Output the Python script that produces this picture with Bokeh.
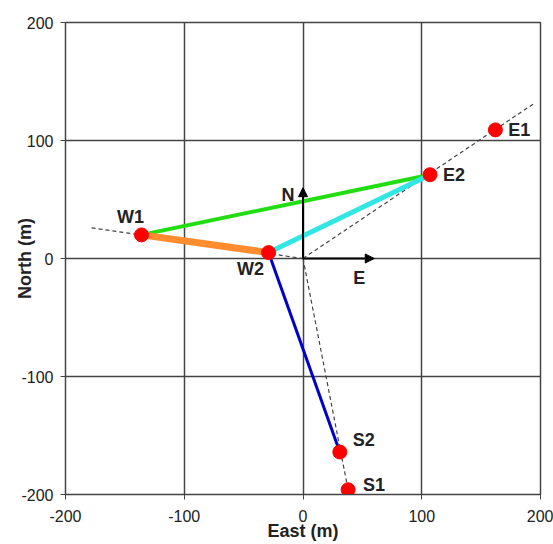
from bokeh.plotting import figure
from bokeh.models import Range1d, Arrow, NormalHead, FixedTicker, ColumnDataSource, CustomJSTickFormatter
from bokeh.core.properties import value
from bokeh.embed import file_html
from bokeh.resources import INLINE

# Station data
stations = ["W1", "W2", "E2", "E1", "S2", "S1"]
east = [-136, -29, 107, 162, 31, 38]
north = [20, 5, 71, 109, -164, -196]

# Label offsets (screen px) for station names
lab_dx = [-11, -18, 24, 24, 24, 26]
lab_dy = [-18, 16, 0, 0, -12, -5]

# Survey line segments (from, to) station names and colors
seg_from = ["W1", "W1", "W2", "W2"]
seg_to = ["E2", "W2", "E2", "S2"]
seg_color = ["#22DD11", "#FF8C2E", "#33E6E6", "#0000CC"]
seg_width = [4, 7, 5, 3]

# Dashed profile lines (through origin)
dash_x0 = [-178, 0, 0]
dash_y0 = [26, 0, 0]
dash_x1 = [0, 194, 38]
dash_y1 = [0, 131, -196]

# Compass arrows
compass = ["N", "E"]
compass_x = [0, 60]
compass_y = [60, 0]
compass_dx = [-15, -15]
compass_dy = [7, 19]

ticks = [-200, -100, 0, 100, 200]

p = figure(width=553, height=544, output_backend="svg", toolbar_location=None,
           x_range=Range1d(-200, 200), y_range=Range1d(-200, 200),
           min_border_left=65, min_border_top=22, min_border_right=13, min_border_bottom=50)
p.background_fill_color = "white"
p.border_fill_color = "white"
p.outline_line_color = "#444444"
p.outline_line_width = 1.5

for ax in (p.xaxis[0], p.yaxis[0]):
    ax.ticker = FixedTicker(ticks=ticks)
    ax.formatter = CustomJSTickFormatter(code="return tick.toString();")
    ax.minor_tick_line_color = None
    ax.major_tick_in = 0
    ax.major_tick_out = 5
    ax.axis_line_color = "#444444"
    ax.major_tick_line_color = "#444444"
    ax.major_label_text_font = "Liberation Sans"
    ax.major_label_text_font_size = "16px"
    ax.major_label_text_color = "#222222"
    ax.axis_label_text_font = "Liberation Sans"
    ax.axis_label_text_font_size = "18px"
    ax.axis_label_text_font_style = "bold"
    ax.axis_label_text_color = "#222222"
p.xaxis.axis_label = "East (m)"
p.yaxis.axis_label = "North (m)"
p.xaxis.major_label_standoff = 10
p.xaxis.axis_label_standoff = -4
p.yaxis.major_label_standoff = 7
p.yaxis.axis_label_standoff = -17

for g in (p.xgrid[0], p.ygrid[0]):
    g.ticker = FixedTicker(ticks=ticks)
    g.grid_line_color = "#444444"
    g.grid_line_width = 1.5

# dashed lines
p.segment(x0=dash_x0, y0=dash_y0, x1=dash_x1, y1=dash_y1,
          line_color="#444444", line_dash="4 3", line_width=1.2)

idx = {s: i for i, s in enumerate(stations)}
sx0 = [east[idx[a]] for a in seg_from]
sy0 = [north[idx[a]] for a in seg_from]
sx1 = [east[idx[b]] for b in seg_to]
sy1 = [north[idx[b]] for b in seg_to]
p.segment(x0=sx0, y0=sy0, x1=sx1, y1=sy1, line_color=seg_color, line_width=seg_width)

# compass arrows
for cx, cy in zip(compass_x, compass_y):
    p.add_layout(Arrow(end=NormalHead(size=9, fill_color="black", line_color="black"),
                       x_start=0, y_start=0, x_end=cx, y_end=cy,
                       line_color="black", line_width=2))
p.text(x=compass_x, y=compass_y, text=compass, x_offset=compass_dx, y_offset=compass_dy,
       text_align="center", text_baseline="middle", text_font=value("Liberation Sans"),
       text_font_style="bold", text_font_size="18px", text_color="#222222")

p.scatter(x=east, y=north, size=14, fill_color="#FF0000", line_color="#FF0000")

src = ColumnDataSource(dict(x=east, y=north, t=stations, dx=lab_dx, dy=lab_dy))
p.text(x="x", y="y", text="t", x_offset="dx", y_offset="dy", source=src,
       text_align="center", text_baseline="middle", text_font=value("Liberation Sans"),
       text_font_style="bold", text_font_size="18px", text_color="#222222")

open("out.html", "w").write(file_html(p, INLINE))
